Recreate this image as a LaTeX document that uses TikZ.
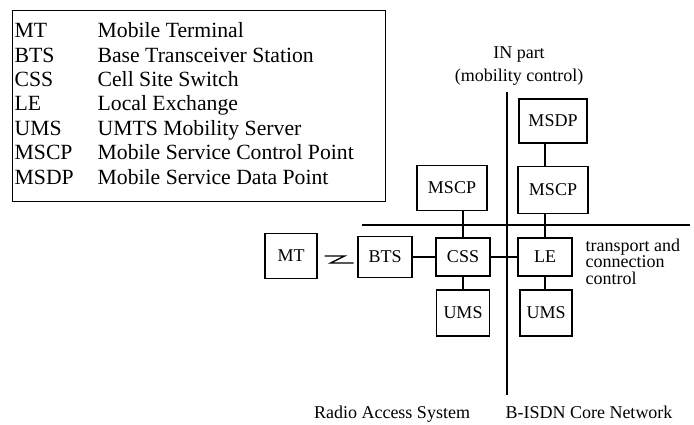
\documentclass[tikz,border=0pt]{standalone}
\usepackage{fontspec}
\setmainfont{Liberation Serif}
\usepackage{array}
\usetikzlibrary{positioning}

\newcommand{\diafont}{\fontsize{9}{8.3}\selectfont}
\newcommand{\keyfont}{\fontsize{10.85}{12.2}\selectfont}

\begin{document}
\begin{tikzpicture}[x=0.5pt,y=-0.5pt,line width=0.65pt,
  box/.style={draw,font=\diafont,inner sep=0pt}]
\useasboundingbox (0,0) rectangle (694,424);

% key of abbreviations
\node[draw,anchor=north west,inner xsep=1pt,inner ysep=5pt,font=\keyfont] (key) at (12,10)
  {\begin{tabular}{@{}p{41.5pt}@{}p{143pt}@{}}
   MT & Mobile Terminal\\
   BTS & Base Transceiver Station\\
   CSS & Cell Site Switch\\
   LE & Local Exchange\\
   UMS & UMTS Mobility Server\\
   MSCP & Mobile Service Control Point\\
   MSDP & Mobile Service Data Point
   \end{tabular}};

% dividing lines
\draw (507,92) -- (507,395);
\draw (362,225) -- (690,225);

% network elements
\node[box,minimum width=26pt,minimum height=22.5pt] (mt) at (291,256) {MT};
\node[box,minimum width=27pt,minimum height=20.5pt] (bts) at (385,257) {BTS};
\node[box,minimum width=27pt,minimum height=19pt] (css) at (463,257) {CSS};
\node[box,minimum width=27pt,minimum height=19pt] (le) at (545,257) {LE};
\node[box,minimum width=35pt,minimum height=22.5pt] (mscpl) at (452,188) {MSCP};
\node[box,minimum width=35pt,minimum height=23.5pt] (mscpr) at (553,190) {MSCP};
\node[box,minimum width=34pt,minimum height=22pt] (msdp) at (553,121) {MSDP};
\node[box,minimum width=26.5pt,minimum height=23pt] (umsl) at (463,313) {UMS};
\node[box,minimum width=26pt,minimum height=23pt] (umsr) at (546,313) {UMS};

% radio link
\draw ([xshift=3.5pt]mt.east) -- ++(20,0) -- ++(-14,7) -- ++(23,0);

% connections
\draw (bts.east) -- (css.west);
\draw (css.east) -- (le.west);
\draw (css.north) -- (css.north |- mscpl.south);
\draw (css.south) -- (css.south |- umsl.north);
\draw (le.north) -- (le.north |- mscpr.south);
\draw (le.north |- mscpr.north) -- (le.north |- msdp.south);
\draw (le.south) -- (le.south |- umsr.north);

% part labels
\node[font=\diafont,anchor=base] (inpart) at (519,58) {IN part};
\node[font=\diafont,anchor=base] (mobctl) at (519,81) {(mobility control)};
\node[font=\diafont,anchor=north west,align=left,inner sep=0pt] (transport) at (585,238)
  {transport and\\connection\\control};
\node[font=\diafont,anchor=base] (ras) at (392,418) {Radio Access System};
\node[font=\diafont,anchor=base] (core) at (589,418) {B-ISDN Core Network};
\end{tikzpicture}
\end{document}
